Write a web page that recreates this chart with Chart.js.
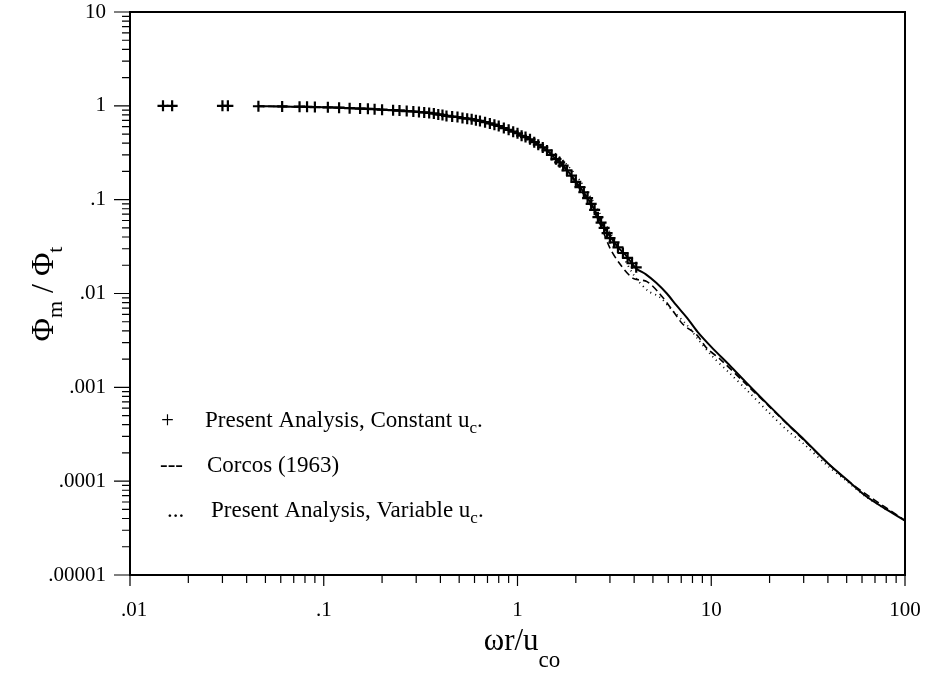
<!DOCTYPE html>
<html>
<head>
<meta charset="utf-8">
<script src="https://cdn.jsdelivr.net/npm/chart.js@4.4.1/dist/chart.umd.min.js"></script>
<style>
  html, body { margin: 0; padding: 0; background: #fff; }
</style>
</head>
<body>
<canvas id="chart" width="930" height="675"></canvas>
<script>
'use strict';

// axis ticks
var X_TICKS = [0.01, 0.1, 1, 10, 100];
var X_LABELS = ['.01', '.1', '1', '10', '100'];
var Y_TICKS = [0.00001, 0.0001, 0.001, 0.01, 0.1, 1, 10];
var Y_LABELS = ['.00001', '.0001', '.001', '.01', '.1', '1', '10'];
var MINOR = [2, 3, 4, 5, 6, 7, 8, 9];

// + markers : Present Analysis, Constant uc
var plusX = [0.0148, 0.0165, 0.030, 0.032, 0.046, 0.061, 0.075, 0.082, 0.090, 0.105, 0.120, 0.136,
  0.154, 0.169, 0.183, 0.20, 0.228, 0.246, 0.268, 0.29, 0.31, 0.33, 0.35, 0.37, 0.39, 0.41, 0.43,
  0.46, 0.49, 0.52, 0.55, 0.58, 0.61, 0.64, 0.68, 0.72, 0.76, 0.80, 0.85, 0.90, 0.95, 1.0, 1.05,
  1.10, 1.16, 1.22, 1.28, 1.35, 1.42, 1.50, 1.58, 1.65, 1.72, 1.80, 1.90, 2.0, 2.1, 2.2, 2.3, 2.4,
  2.5, 2.6, 2.7, 2.8, 2.9, 3.0, 3.15, 3.3, 3.5, 3.7, 3.9, 4.1];
var plusY = [1.0, 1.0, 1.0, 1.0, 0.99, 0.985, 0.98, 0.975, 0.97, 0.965, 0.955, 0.945,
  0.935, 0.93, 0.92, 0.91, 0.90, 0.89, 0.88, 0.87, 0.86, 0.85, 0.84, 0.83, 0.81, 0.80, 0.78,
  0.77, 0.76, 0.74, 0.73, 0.72, 0.70, 0.69, 0.67, 0.65, 0.63, 0.61, 0.58, 0.555, 0.53, 0.51, 0.48,
  0.465, 0.44, 0.41, 0.385, 0.36, 0.335, 0.30, 0.27, 0.25, 0.23, 0.205, 0.18, 0.155, 0.136, 0.12, 0.104, 0.09,
  0.078, 0.065, 0.057, 0.050, 0.044, 0.039, 0.035, 0.031, 0.027, 0.024, 0.021, 0.019];

// solid line
var solidX = [0.046, 0.06, 0.08, 0.1, 0.13, 0.16, 0.2, 0.25, 0.3, 0.36, 0.43, 0.52, 0.64, 0.8, 0.95,
  1.05, 1.16, 1.28, 1.42, 1.58, 1.72, 1.9, 2.1, 2.3, 2.5, 2.7, 2.9, 3.1, 3.3, 3.6, 4.1, 4.6, 5.2,
  5.9, 6.6, 7.5, 8.5, 10, 12.5, 15, 20, 25, 30, 40, 50, 63, 80, 100];
var solidY = [0.99, 0.985, 0.975, 0.965, 0.95, 0.935, 0.91, 0.89, 0.865, 0.83, 0.78, 0.745, 0.69, 0.61, 0.53,
  0.48, 0.44, 0.385, 0.335, 0.27, 0.23, 0.18, 0.136, 0.104, 0.078, 0.057, 0.045, 0.037, 0.031, 0.026, 0.0185, 0.016, 0.013,
  0.010, 0.0075, 0.0055, 0.0039, 0.0027, 0.0017, 0.00115, 0.00063, 0.0004, 0.00028, 0.000155, 0.000104, 0.000069, 0.00005, 0.000038];

// dashed : Corcos (1963)
var corcosX = [0.046, 0.1, 0.2, 0.3, 0.43, 0.64, 0.95, 1.16, 1.42, 1.72, 2.1, 2.4, 2.7, 3.0, 3.38, 3.95,
  4.66, 5.43, 6.35, 7.14, 8.44, 9.5, 11.1, 15, 20, 30, 50, 100];
var corcosY = [0.99, 0.965, 0.91, 0.865, 0.78, 0.69, 0.53, 0.44, 0.335, 0.23, 0.13, 0.085, 0.052, 0.0305, 0.0206, 0.0145,
  0.0134, 0.0099, 0.0065, 0.0047, 0.0036, 0.0026, 0.002, 0.0011, 0.00062, 0.000275, 0.000103, 0.000038];

// dotted : Present Analysis, Variable uc
var variableX = [0.046, 0.1, 0.2, 0.3, 0.43, 0.64, 0.95, 1.16, 1.42, 1.72, 2.1, 2.5, 3.0, 3.5, 4.0, 4.7, 5.4,
  6.3, 7.5, 8.5, 10, 12.5, 15, 20, 25, 30, 40, 50, 63, 80];
var variableY = [0.99, 0.965, 0.91, 0.87, 0.79, 0.70, 0.55, 0.46, 0.36, 0.26, 0.16, 0.09, 0.045, 0.025, 0.0155, 0.0107, 0.0092,
  0.0066, 0.0046, 0.0033, 0.0022, 0.0014, 0.00097, 0.00053, 0.00034, 0.00025, 0.000145, 0.0001, 0.000068, 0.00005];

function pairs(xs, ys) {
  return xs.map(function (x, i) { return { x: x, y: ys[i] }; });
}

var SERIF = '"Liberation Serif", "Times New Roman", serif';

// text with a subscript, parts = [[text, isSub], ...]
function drawParts(ctx, parts, x, y, size, subSize, subDrop, align) {
  var widths = parts.map(function (p) {
    ctx.font = (p[1] ? subSize : size) + 'px ' + SERIF;
    return ctx.measureText(p[0]).width;
  });
  var total = widths.reduce(function (a, b) { return a + b; }, 0);
  var cx = align === 'center' ? x - total / 2 : x;
  parts.forEach(function (p, i) {
    ctx.font = (p[1] ? subSize : size) + 'px ' + SERIF;
    ctx.fillText(p[0], cx, p[1] ? y + subDrop : y);
    cx += widths[i];
  });
}

var framePlugin = {
  id: 'frame',
  afterDraw: function (chart) {
    var ctx = chart.ctx;
    var a = chart.chartArea;
    var xs = chart.scales.x, ys = chart.scales.y;
    ctx.save();
    ctx.strokeStyle = '#000';
    ctx.fillStyle = '#000';

    // box
    ctx.lineWidth = 2;
    ctx.strokeRect(a.left, a.top, a.right - a.left, a.bottom - a.top);

    // ticks
    ctx.lineWidth = 1.2;
    ctx.beginPath();
    for (var i = 0; i < X_TICKS.length; i++) {
      var px = xs.getPixelForValue(X_TICKS[i]);
      ctx.moveTo(px, a.bottom); ctx.lineTo(px, a.bottom + 11);
      if (i < X_TICKS.length - 1) {
        MINOR.forEach(function (m) {
          var p = xs.getPixelForValue(X_TICKS[i] * m);
          ctx.moveTo(p, a.bottom); ctx.lineTo(p, a.bottom + 8);
        });
      }
    }
    for (var j = 0; j < Y_TICKS.length; j++) {
      var py = ys.getPixelForValue(Y_TICKS[j]);
      ctx.moveTo(a.left, py); ctx.lineTo(a.left - 16, py);
      if (j < Y_TICKS.length - 1) {
        MINOR.forEach(function (m) {
          var p = ys.getPixelForValue(Y_TICKS[j] * m);
          ctx.moveTo(a.left, p); ctx.lineTo(a.left - 8, p);
        });
      }
    }
    ctx.stroke();

    // tick labels
    ctx.font = '21px ' + SERIF;
    ctx.textBaseline = 'middle';
    ctx.textAlign = 'center';
    X_TICKS.forEach(function (v, k) {
      ctx.fillText(X_LABELS[k], xs.getPixelForValue(v) + (k === 0 ? 4 : 0), a.bottom + 35);
    });
    ctx.textAlign = 'right';
    Y_TICKS.forEach(function (v, k) {
      ctx.fillText(Y_LABELS[k], a.left - 24, ys.getPixelForValue(v));
    });

    // axis titles
    ctx.textBaseline = 'alphabetic';
    ctx.textAlign = 'left';
    drawParts(ctx, [['\u03c9r/u', false], ['co', true]], 522, 650, 31, 23, 17, 'center');

    ctx.save();
    ctx.translate(53, 294);
    ctx.rotate(-Math.PI / 2);
    drawParts(ctx, [['\u03a6', false], ['m', true], [' / ', false], ['\u03a6', false], ['t', true]],
      0, 0, 32, 22, 9, 'center');
    ctx.restore();

    // legend
    ctx.font = '23px ' + SERIF;
    ctx.fillText('+', 161, 427);
    drawParts(ctx, [['Present Analysis, Constant u', false], ['c', true], ['.', false]], 205, 427, 23, 17, 6, 'left');
    ctx.font = '23px ' + SERIF;
    ctx.fillText('---', 160, 472);
    drawParts(ctx, [['Corcos (1963)', false]], 207, 472, 23, 17, 6, 'left');
    ctx.font = '23px ' + SERIF;
    ctx.fillText('...', 167, 517);
    drawParts(ctx, [['Present Analysis, Variable u', false], ['c', true], ['.', false]], 211, 517, 23, 17, 6, 'left');

    ctx.restore();
  }
};

var ctx = document.getElementById('chart').getContext('2d');
new Chart(ctx, {
  type: 'scatter',
  data: {
    datasets: [{
      label: 'Present Analysis, Variable uc',
      data: pairs(variableX, variableY),
      showLine: true,
      borderColor: '#000',
      borderWidth: 1.8,
      borderDash: [1, 4],
      pointRadius: 0,
      tension: 0.3
    }, {
      label: 'Corcos (1963)',
      data: pairs(corcosX, corcosY),
      showLine: true,
      borderColor: '#000',
      borderWidth: 1.6,
      borderDash: [7, 4],
      pointRadius: 0,
      tension: 0.3
    }, {
      label: 'solid',
      data: pairs(solidX, solidY),
      showLine: true,
      borderColor: '#000',
      borderWidth: 2,
      pointRadius: 0,
      tension: 0.3
    }, {
      label: 'Present Analysis, Constant uc',
      data: pairs(plusX, plusY),
      showLine: false,
      pointStyle: 'cross',
      pointRadius: 5.5,
      borderColor: '#000',
      backgroundColor: '#000',
      borderWidth: 2.2
    }]
  },
  options: {
    responsive: false,
    animation: false,
    layout: { padding: { left: 130, right: 25, top: 12, bottom: 100 } },
    scales: {
      x: { type: 'logarithmic', min: 0.01, max: 100, display: false },
      y: { type: 'logarithmic', min: 0.00001, max: 10, display: false }
    },
    plugins: {
      legend: { display: false },
      tooltip: { enabled: false }
    }
  },
  plugins: [framePlugin]
});
</script>
</body>
</html>
